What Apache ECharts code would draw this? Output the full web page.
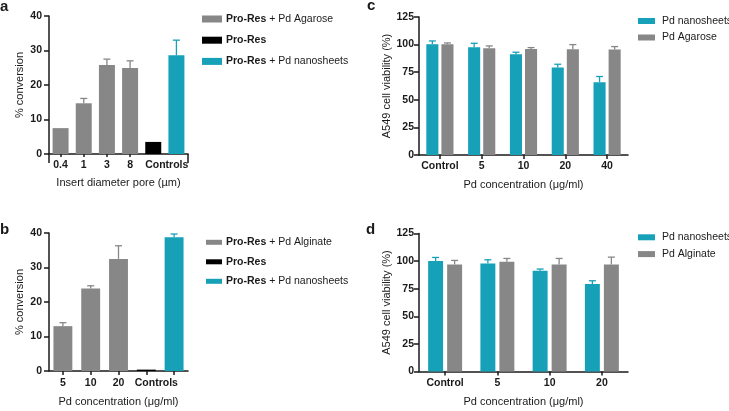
<!DOCTYPE html>
<html><head><meta charset="utf-8">
<script src="https://cdn.jsdelivr.net/npm/echarts@6/dist/echarts.min.js"></script>
<style>html,body{margin:0;padding:0;background:#fff}#c{width:729px;height:411px}</style>
</head><body><div id="c"></div>
<script>
// ---------- data ----------
const aCats = ['0.4', '1', '3', '8', 'Controls', ''];
const aAgarose = [7.5, 14.7, 25.8, 24.9, '-', '-'];
const aAgaroseErr = [0, 1.4, 1.7, 2.1, 0, 0];
const aProRes = ['-', '-', '-', '-', 3.5, '-'];
const aNanosheets = ['-', '-', '-', '-', '-', 28.6];
const aNanosheetsErr = [0, 0, 0, 0, 0, 4.4];

const bCats = ['5', '10', '20', 'Controls', ''];
const bAlginate = [13.0, 23.9, 32.5, '-', '-'];
const bAlginateErr = [1.0, 0.8, 3.8, 0, 0];
const bProRes = ['-', '-', '-', 0.4, '-'];
const bNanosheets = ['-', '-', '-', '-', 38.8];
const bNanosheetsErr = [0, 0, 0, 0, 0.9];

const cCats = ['Control', '5', '10', '20', '40'];
const cNanosheets = [100.3, 97.6, 91.3, 79.2, 66.0];
const cNanosheetsErr = [3.0, 3.6, 1.8, 3.0, 5.1];
const cAgarose = [100.3, 96.7, 96.1, 95.8, 95.5];
const cAgaroseErr = [1.2, 2.1, 1.2, 4.2, 2.7];

const dCats = ['Control', '5', '10', '20'];
const dNanosheets = [100.0, 97.9, 91.3, 79.2];
const dNanosheetsErr = [3.3, 3.3, 1.5, 3.0];
const dAlginate = [97.0, 99.4, 97.0, 97.0];
const dAlginateErr = [3.6, 3.0, 5.4, 6.6];

const convTicks = {min: 0, max: 40, interval: 10};
const viabTicks = {min: 0, max: 125, interval: 25};

// ---------- style ----------
const FONT = "'Liberation Sans', Arial, sans-serif";
const TEAL = '#16a1b9', GRAY = '#878787', BLACK = '#000000', INK = '#1a1a1a';
const LEG = 10.5;

const chart = echarts.init(document.getElementById('c'), null, {renderer: 'canvas'});

function yAxis(grid, ticks, name, nameGap, margin) {
  return {
    type: 'value', gridIndex: grid, min: ticks.min, max: ticks.max, interval: ticks.interval,
    name: name, nameLocation: 'middle', nameGap: nameGap,
    nameTextStyle: {fontFamily: FONT, fontSize: 11, color: INK},
    axisLine: {show: true, lineStyle: {color: INK, width: 1.5}},
    axisTick: {show: true, length: 5, lineStyle: {color: INK, width: 1.5}},
    axisLabel: {fontFamily: FONT, fontSize: 10.5, fontWeight: 'bold', color: INK, margin: margin},
    splitLine: {show: false}
  };
}
function xAxis(grid, cats, name, nameGap, margin, extra) {
  return Object.assign({
    type: 'category', gridIndex: grid, data: cats, position: 'bottom',
    name: name, nameLocation: 'middle', nameGap: nameGap,
    nameTextStyle: {fontFamily: FONT, fontSize: 11, color: INK},
    axisLine: {show: true, lineStyle: {color: INK, width: 1.5}},
    axisTick: {show: true, alignWithLabel: true, length: 4, lineStyle: {color: INK, width: 1.5}},
    axisLabel: {interval: 0, fontFamily: FONT, fontSize: 10.5, fontWeight: 'bold', color: INK, margin: margin}
  }, extra || {});
}

// error bar: data [catIndex, top, base]; slot offset computed from the band width
function errSeries(name, xi, yi, vals, errs, color, slot, nSlots, catGap, barGap) {
  const data = [];
  vals.forEach((v, i) => { if (v !== '-' && errs[i] > 0) data.push([i, v + errs[i], v]); });
  return {
    type: 'custom', name: name, xAxisIndex: xi, yAxisIndex: yi, z: 3, silent: true,
    data: data,
    renderItem: function (params, api) {
      const band = api.size([1, 0])[0];
      const usable = band * (1 - catGap);
      const bw = usable / (nSlots + (nSlots - 1) * barGap);
      const off = -usable / 2 + bw / 2 + slot * bw * (1 + barGap);
      const pTop = api.coord([api.value(0), api.value(1)]);
      const pBase = api.coord([api.value(0), api.value(2)]);
      const x = pTop[0] + off;
      const st = {stroke: color, lineWidth: 1.3};
      return {type: 'group', children: [
        {type: 'line', shape: {x1: x, y1: pBase[1], x2: x, y2: pTop[1]}, style: st},
        {type: 'line', shape: {x1: x - 3.5, y1: pTop[1], x2: x + 3.5, y2: pTop[1]}, style: st}
      ]};
    }
  };
}

const legendFmt = n => n.indexOf('Pro-Res') === 0 ? '{b|Pro-Res}' + n.slice(7) : n;
function legend(names, left, top, iw, ih, gap, textGap, rich) {
  return {
    data: names, orient: 'vertical', left: left, top: top, padding: 0,
    itemWidth: iw, itemHeight: ih, itemGap: gap, icon: 'rect', selectedMode: false,
    formatter: rich ? legendFmt : undefined,
    textStyle: {fontFamily: FONT, fontSize: LEG, color: INK, padding: [0, 0, 0, textGap - 5],
      rich: {b: {fontFamily: FONT, fontSize: LEG, fontWeight: 'bold', color: INK}}}
  };
}

const option = {
  animation: false,
  backgroundColor: '#ffffff',
  title: [
    {text: 'a', left: 0, top: -1},
    {text: 'b', left: 0, top: 222},
    {text: 'c', left: 367, top: -2},
    {text: 'd', left: 366, top: 222}
  ].map(t => Object.assign(t, {padding: 0, textStyle: {fontFamily: FONT, fontSize: 15, fontWeight: 'bold', color: INK}})),
  grid: [
    {left: 49, top: 16, width: 139, height: 138},
    {left: 49, top: 233, width: 139, height: 138},
    {left: 419, top: 17, width: 209, height: 138},
    {left: 419, top: 233.5, width: 209, height: 138}
  ],
  legend: [
    legend(['Pro-Res + Pd Agarose', 'Pro-Res', 'Pro-Res + Pd nanosheets'], 202, 13.5, 20, 7, 10.2, 4, true),
    legend(['Pro-Res + Pd Alginate', 'Pro-Res', 'Pro-Res + Pd nanosheets'], 206, 236.8, 16, 5, 8.5, 4, true),
    legend(['Pd nanosheets', 'Pd Agarose'], 638, 15.5, 17, 6, 5.5, 7, false),
    legend(['Pd nanosheets', 'Pd Alginate'], 638, 231.8, 17, 6, 5.8, 7, false)
  ],
  xAxis: [
    xAxis(0, aCats, 'Insert diameter pore (\u00b5m)', 23.5, 6, {
      axisTick: {show: true, alignWithLabel: true, length: 3, interval: i => i < 4, lineStyle: {color: INK, width: 1.5}},
      axisLabel: {interval: 0, fontFamily: FONT, fontSize: 10.5, fontWeight: 'bold', color: INK, margin: 6,
        formatter: (v, i) => i === 4 ? '{s|Controls}' : v,
        rich: {s: {fontFamily: FONT, fontSize: 10.5, fontWeight: 'bold', color: INK, padding: [0, 0, 0, 27]}}}
    }),
    xAxis(1, bCats, 'Pd concentration (\u03bcg/ml)', 25.5, 7, {
      axisLabel: {interval: 0, fontFamily: FONT, fontSize: 10.5, fontWeight: 'bold', color: INK, margin: 7,
        formatter: (v, i) => i === 3 ? '{s|Controls}' : v,
        rich: {s: {fontFamily: FONT, fontSize: 10.5, fontWeight: 'bold', color: INK, padding: [0, 0, 0, 20]}}}
    }),
    xAxis(2, cCats, 'Pd concentration (\u03bcg/ml)', 24, 6),
    xAxis(3, dCats, 'Pd concentration (\u03bcg/ml)', 24.5, 6),
    // separator tick between sample bars and controls in panel a
    {type: 'category', gridIndex: 0, data: aCats, position: 'bottom',
      axisLine: {show: false}, axisLabel: {show: false},
      axisTick: {show: true, alignWithLabel: false, length: 9, interval: i => i === 4, lineStyle: {color: INK, width: 1.5}}}
  ],
  yAxis: [
    yAxis(0, convTicks, '% conversion', 24, 7),
    yAxis(1, convTicks, '% conversion', 24, 7),
    yAxis(2, viabTicks, 'A549 cell viability (%)', 26, 5),
    yAxis(3, viabTicks, 'A549 cell viability (%)', 26, 5)
  ],
  series: [
    // panel a
    {type: 'bar', name: 'Pro-Res + Pd Agarose', xAxisIndex: 0, yAxisIndex: 0, data: aAgarose, itemStyle: {color: GRAY}, barCategoryGap: '31%', barGap: '-100%'},
    {type: 'bar', name: 'Pro-Res', xAxisIndex: 0, yAxisIndex: 0, data: aProRes, itemStyle: {color: BLACK}, barCategoryGap: '31%', barGap: '-100%'},
    {type: 'bar', name: 'Pro-Res + Pd nanosheets', xAxisIndex: 0, yAxisIndex: 0, data: aNanosheets, itemStyle: {color: TEAL}, barCategoryGap: '31%', barGap: '-100%'},
    errSeries('errA1', 0, 0, aAgarose, aAgaroseErr, GRAY, 0, 1, 0.31, 0),
    errSeries('errA2', 0, 0, aNanosheets, aNanosheetsErr, TEAL, 0, 1, 0.31, 0),
    // panel b
    {type: 'bar', name: 'Pro-Res + Pd Alginate', xAxisIndex: 1, yAxisIndex: 1, data: bAlginate, itemStyle: {color: GRAY}, barCategoryGap: '32%', barGap: '-100%'},
    {type: 'bar', name: 'Pro-Res', xAxisIndex: 1, yAxisIndex: 1, data: bProRes, itemStyle: {color: BLACK}, barCategoryGap: '32%', barGap: '-100%'},
    {type: 'bar', name: 'Pro-Res + Pd nanosheets', xAxisIndex: 1, yAxisIndex: 1, data: bNanosheets, itemStyle: {color: TEAL}, barCategoryGap: '32%', barGap: '-100%'},
    errSeries('errB1', 1, 1, bAlginate, bAlginateErr, GRAY, 0, 1, 0.32, 0),
    errSeries('errB2', 1, 1, bNanosheets, bNanosheetsErr, TEAL, 0, 1, 0.32, 0),
    // panel c
    {type: 'bar', name: 'Pd nanosheets', xAxisIndex: 2, yAxisIndex: 2, data: cNanosheets, itemStyle: {color: TEAL}, barCategoryGap: '35%', barGap: '25%'},
    {type: 'bar', name: 'Pd Agarose', xAxisIndex: 2, yAxisIndex: 2, data: cAgarose, itemStyle: {color: GRAY}, barCategoryGap: '35%', barGap: '25%'},
    errSeries('errC1', 2, 2, cNanosheets, cNanosheetsErr, TEAL, 0, 2, 0.35, 0.25),
    errSeries('errC2', 2, 2, cAgarose, cAgaroseErr, GRAY, 1, 2, 0.35, 0.25),
    // panel d
    {type: 'bar', name: 'Pd nanosheets', xAxisIndex: 3, yAxisIndex: 3, data: dNanosheets, itemStyle: {color: TEAL}, barCategoryGap: '35%', barGap: '27%'},
    {type: 'bar', name: 'Pd Alginate', xAxisIndex: 3, yAxisIndex: 3, data: dAlginate, itemStyle: {color: GRAY}, barCategoryGap: '35%', barGap: '27%'},
    errSeries('errD1', 3, 3, dNanosheets, dNanosheetsErr, TEAL, 0, 2, 0.35, 0.27),
    errSeries('errD2', 3, 3, dAlginate, dAlginateErr, GRAY, 1, 2, 0.35, 0.27)
  ]
};
chart.setOption(option);
</script>
</body></html>
